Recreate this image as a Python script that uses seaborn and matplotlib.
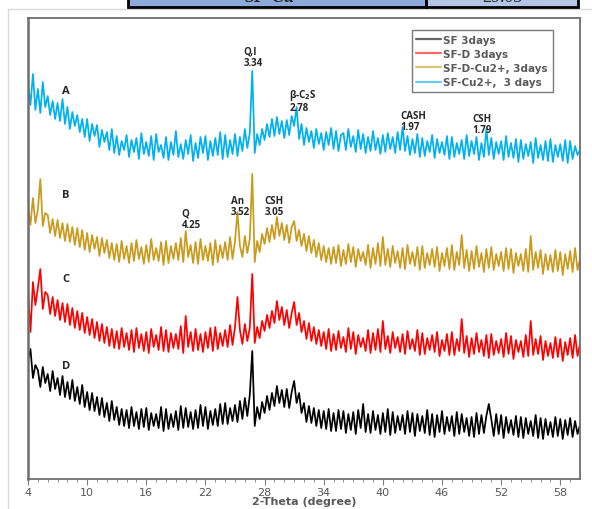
import numpy as np
import pandas as pd
import seaborn as sns
import matplotlib.pyplot as plt
from matplotlib.patches import Rectangle

# 2-theta grid, 0.25 degree steps from 4 to 60
two_theta = np.arange(4, 60.001, 0.25)

# intensities (arbitrary units, traces already offset)
sf_cu = [
    398, 376, 407, 371, 392, 368, 399, 374, 385, 366, 380, 362, 378, 360, 382, 357,
    374, 352, 369, 355, 366, 349, 362, 344, 362, 340, 357, 345, 356, 334, 351, 339,
    349, 331, 352, 328, 345, 326, 340, 331, 346, 324, 341, 329, 343, 322, 348, 327,
    339, 325, 345, 321, 347, 329, 336, 323, 344, 321, 339, 326, 350, 324, 337, 322,
    341, 327, 346, 320, 338, 323, 344, 328, 345, 321, 340, 325, 343, 326, 349, 322,
    346, 324, 341, 327, 347, 325, 344, 330, 352, 333, 348, 410, 328, 347, 336, 352,
    341, 357, 344, 362, 345, 364, 347, 360, 343, 361, 346, 365, 355, 374, 342, 357,
    336, 353, 339, 350, 333, 352, 337, 348, 331, 349, 336, 353, 332, 350, 330, 346,
    348, 331, 352, 334, 345, 329, 351, 332, 347, 328, 344, 330, 350, 331, 343, 327,
    346, 329, 348, 332, 344, 328, 349, 331, 354, 330, 345, 326, 342, 328, 347, 324,
    343, 325, 340, 329, 346, 323, 342, 328, 339, 326, 345, 322, 344, 324, 338, 327,
    341, 322, 346, 325, 340, 327, 344, 321, 338, 324, 352, 326, 343, 322, 339, 327,
    340, 321, 345, 324, 338, 323, 342, 319, 341, 322, 337, 325, 339, 318, 343, 323,
    336, 321, 340, 320, 342, 319, 336, 324, 337, 320, 341, 318, 340, 322, 335, 326,
    331,
]
sf_d_cu = [
    274, 256, 283, 258, 271, 302, 255, 268, 266, 248, 262, 245, 261, 243, 258, 240,
    257, 239, 254, 236, 253, 234, 251, 231, 248, 229, 246, 232, 244, 225, 243, 228,
    241, 223, 238, 221, 237, 219, 240, 222, 235, 218, 238, 220, 241, 222, 234, 217,
    236, 219, 242, 221, 233, 220, 239, 216, 240, 218, 235, 222, 238, 221, 243, 219,
    250, 224, 236, 218, 239, 217, 242, 221, 235, 220, 238, 216, 241, 219, 236, 223,
    239, 221, 244, 222, 240, 269, 235, 224, 245, 228, 242, 307, 219, 240, 229, 247,
    237, 253, 239, 256, 242, 264, 245, 258, 241, 256, 238, 254, 260, 240, 251, 235,
    247, 230, 245, 228, 241, 224, 238, 221, 235, 219, 233, 217, 234, 218, 236, 215,
    231, 217, 237, 219, 234, 214, 232, 220, 229, 216, 236, 213, 233, 217, 238, 215,
    244, 216, 232, 214, 235, 218, 230, 213, 233, 212, 236, 217, 229, 215, 234, 211,
    235, 213, 228, 216, 232, 214, 234, 210, 228, 215, 233, 212, 236, 211, 229, 216,
    246, 213, 231, 210, 230, 212, 235, 214, 228, 209, 232, 213, 234, 211, 227, 215,
    229, 210, 233, 212, 232, 208, 228, 215, 227, 210, 232, 209, 245, 211, 229, 213,
    231, 207, 227, 211, 226, 209, 231, 210, 229, 206, 227, 212, 230, 209, 233, 211,
    222,
]
sf_d = [
    191, 149, 199, 176, 193, 212, 172, 189, 186, 167, 184, 165, 181, 161, 178, 159,
    177, 156, 173, 153, 170, 151, 168, 148, 164, 146, 162, 143, 159, 140, 157, 138,
    154, 135, 152, 133, 150, 132, 153, 134, 148, 131, 151, 129, 153, 133, 147, 130,
    149, 128, 152, 134, 146, 131, 154, 130, 151, 129, 148, 133, 147, 132, 155, 128,
    165, 134, 149, 130, 152, 131, 147, 129, 149, 133, 153, 130, 154, 132, 148, 135,
    151, 134, 156, 136, 154, 184, 151, 137, 157, 140, 153, 207, 138, 154, 143, 160,
    150, 166, 153, 170, 158, 180, 161, 174, 156, 171, 153, 168, 179, 156, 168, 149,
    160, 142, 158, 140, 154, 137, 151, 135, 149, 132, 152, 130, 147, 131, 150, 133,
    144, 129, 153, 132, 149, 127, 146, 134, 143, 130, 151, 128, 148, 131, 152, 129,
    160, 132, 145, 128, 149, 133, 144, 129, 147, 127, 150, 132, 142, 130, 151, 126,
    148, 127, 143, 131, 146, 129, 149, 125, 141, 130, 147, 126, 149, 126, 142, 130,
    162, 128, 145, 124, 143, 127, 148, 129, 141, 125, 146, 123, 147, 126, 140, 128,
    142, 124, 148, 127, 145, 122, 141, 129, 140, 124, 146, 125, 160, 126, 142, 127,
    145, 121, 140, 125, 138, 123, 144, 124, 142, 120, 139, 126, 143, 123, 146, 125,
    137,
]
sf = [
    121, 132, 103, 116, 111, 94, 114, 98, 107, 90, 110, 92, 103, 86, 105, 84,
    99, 82, 101, 80, 94, 77, 96, 74, 89, 71, 88, 70, 84, 66, 83, 64,
    78, 60, 80, 61, 74, 56, 72, 55, 71, 53, 74, 55, 69, 52, 72, 54,
    73, 51, 68, 55, 67, 53, 74, 50, 72, 52, 67, 54, 70, 51, 75, 53,
    73, 54, 69, 52, 71, 53, 76, 55, 74, 52, 70, 56, 72, 55, 77, 57,
    78, 57, 73, 60, 76, 59, 80, 62, 83, 65, 86, 130, 55, 74, 62, 79,
    68, 85, 71, 88, 75, 95, 78, 91, 74, 92, 73, 89, 100, 78, 88, 68,
    78, 59, 75, 58, 73, 55, 71, 53, 70, 52, 72, 50, 68, 50, 71, 52,
    70, 48, 67, 51, 69, 47, 71, 53, 77, 49, 67, 48, 70, 51, 66, 47,
    68, 49, 72, 46, 69, 48, 65, 51, 66, 47, 70, 49, 68, 45, 67, 50,
    65, 48, 71, 46, 67, 44, 66, 49, 70, 47, 64, 50, 65, 45, 69, 47,
    67, 49, 63, 45, 64, 44, 68, 47, 66, 48, 65, 77, 62, 45, 67, 47,
    66, 43, 64, 48, 61, 46, 65, 44, 64, 43, 63, 47, 60, 45, 66, 43,
    63, 42, 62, 46, 59, 44, 64, 45, 62, 42, 61, 46, 63, 44, 60, 47,
    56,
]

samples = ['SF 3days', 'SF-D 3days', 'SF-D-Cu2+, 3days', 'SF-Cu2+,  3 days']
colors = ['#000000', '#ff0000', '#c99a1c', '#00b0f0']

# peak labels: (text, 2-theta, height)
peak_labels = [
    ('Q,I\n3.34', 25.9, 424),
    ('β-C$_\\mathbf{2}$S\n2.78', 30.5, 381),
    ('CASH\n1.97', 41.8, 360),
    ('CSH\n1.79', 49.05, 357),
    ('Q\n4.25', 19.6, 262),
    ('An\n3.52', 24.6, 275),
    ('CSH\n3.05', 28.0, 275),
]
trace_labels = [('A', 7.5, 390), ('B', 7.5, 286), ('C', 7.5, 202), ('D', 7.5, 115)]

df = pd.concat([
    pd.DataFrame({'2-Theta': two_theta, 'Intensity': vals, 'Sample': name})
    for name, vals in zip(samples, [sf, sf_d, sf_d_cu, sf_cu])
])

sns.set_style('white')
plt.rcParams['font.family'] = ['DejaVu Sans']

fig = plt.figure(figsize=(5.92, 5.10), dpi=100)
ax = fig.add_axes([28 / 592, 1 - 480 / 510, 552 / 592, 461 / 510])

sns.lineplot(data=df, x='2-Theta', y='Intensity', hue='Sample', hue_order=samples,
             palette=colors, linewidth=1.25, estimator=None, sort=False, ax=ax)

ax.set_xlim(4, 60)
ax.set_ylim(2, 463)
ax.set_xticks(np.arange(4, 59, 6))
ax.set_xticks(np.arange(4, 60, 1), minor=True)
ax.set_yticks([])
ax.tick_params(axis='x', which='major', direction='out', length=4, width=0.8,
               colors='#7f7f7f', labelcolor='#595959', labelsize=8, bottom=True,
               pad=2)
ax.tick_params(axis='x', which='minor', direction='out', length=2.5, width=0.6,
               colors='#7f7f7f', bottom=True)
ax.set_xlabel('2-Theta (degree)', fontsize=8, color='#595959', fontweight='bold',
              labelpad=-1)
ax.set_ylabel('')
for side, sp in ax.spines.items():
    sp.set_visible(True)
    sp.set_color('#6e6e6e')
    sp.set_linewidth(1.3)
ax.spines['left'].set_linewidth(1.8)

for txt, x, y in peak_labels:
    ax.text(x, y, txt, fontsize=7, fontweight='bold', ha='left', va='center',
            linespacing=1.1, family=['Open Sans', 'DejaVu Sans'])
for txt, x, y in trace_labels:
    ax.text(x, y, txt, fontsize=8, fontweight='bold', ha='left', va='center',
            family=['Open Sans', 'DejaVu Sans'])

leg = ax.legend(loc='upper right', bbox_to_anchor=(0.96, 0.985),
                frameon=True, fancybox=False, edgecolor='#595959',
                handlelength=2.4, handletextpad=0.2, labelspacing=0.4,
                borderpad=0.45, prop={'weight': 'bold', 'size': 7.5})
leg.get_frame().set_linewidth(1.0)
for t in leg.get_texts():
    t.set_color('#595959')
for h in leg.get_lines():
    h.set_linewidth(1.6)
    h.set_alpha(0.6)

# outer chart-area border and the clipped table row above the figure
fig.add_artist(Rectangle((8 / 592, -0.1), 1.2, 1 - 10 / 510 + 0.1,
                         transform=fig.transFigure, fill=False,
                         edgecolor='#d9d9d9', linewidth=1.0))
fig.add_artist(Rectangle((128 / 592, 1 - 8 / 510), (426 - 128) / 592, 0.05,
                         transform=fig.transFigure, facecolor='#8eaadb',
                         edgecolor='black', linewidth=2.0))
fig.add_artist(Rectangle((426 / 592, 1 - 8 / 510), (578 - 426) / 592, 0.05,
                         transform=fig.transFigure, facecolor='#b4c6e7',
                         edgecolor='black', linewidth=2.0))
fig.text(270 / 592, 1 + 2 / 510, 'SF-Cu', fontsize=13, fontweight='bold',
         style='italic', family='Liberation Serif', ha='center', va='center')
fig.text(502 / 592, 1 + 2 / 510, '29.03', fontsize=13, family='Liberation Serif',
         ha='center', va='center')

fig.savefig('out.png', dpi=100)
